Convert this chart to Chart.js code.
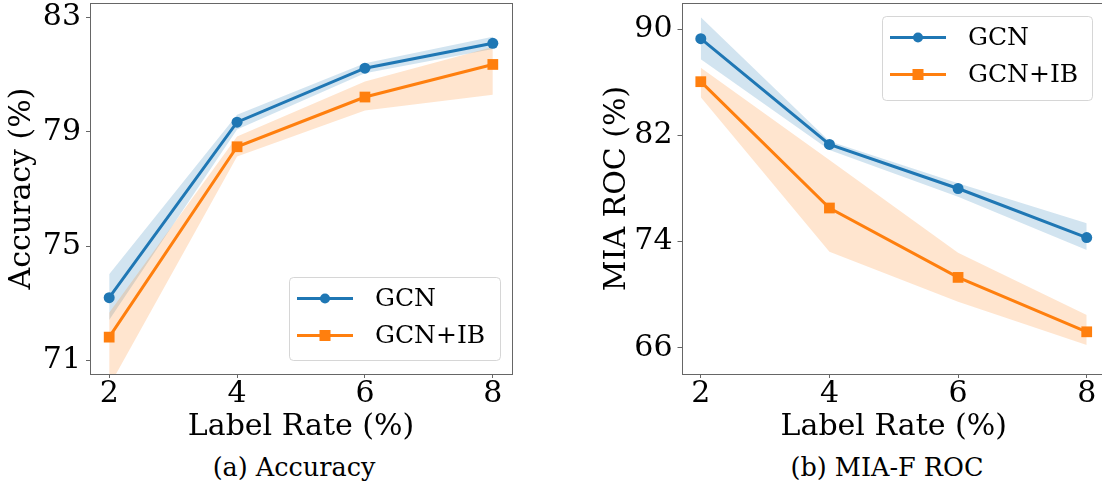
<!DOCTYPE html>
<html>
<head>
<meta charset="utf-8">
<script src="https://cdn.jsdelivr.net/npm/chart.js@4.4.0/dist/chart.umd.min.js"></script>
<style>
  body { margin: 0; background: #fff; width: 1102px; height: 485px; position: relative; overflow: hidden; }
  canvas { position: absolute; top: 0; }
  .caption { position: absolute; top: 452px; height: 30px; line-height: 30px; text-align: center;
             font-family: 'DejaVu Serif', serif; font-size: 25.5px; color: #000; }
</style>
</head>
<body>
<canvas id="accChart" width="530" height="450" style="left:0"></canvas>
<canvas id="miaChart" width="530" height="450" style="left:580px"></canvas>
<div class="caption" style="left:184px;width:220px">(a) Accuracy</div>
<div class="caption" style="left:757px;width:260px">(b) MIA-F ROC</div>

<script>
// ---- data ----
const labelRates = [2, 4, 6, 8];

// (a) Accuracy
const accTicks = [71, 75, 79, 83];
const accGcn = [73.2, 79.34, 81.23, 82.1];
const accGcnUpper = [74.02, 79.6, 81.4, 82.33];
const accGcnLower = [72.42, 79.08, 81.05, 81.9];
const accIb = [71.82, 78.48, 80.22, 81.36];
const accIbUpper = [72.67, 78.84, 80.76, 81.97];
const accIbLower = [70.1, 78.14, 79.75, 80.3];

// (b) MIA-F ROC
const miaTicks = [66, 74, 82, 90];
const miaGcn = [89.29, 81.32, 78.0, 74.3];
const miaGcnUpper = [90.9, 81.57, 78.39, 75.38];
const miaGcnLower = [87.74, 80.9, 77.38, 73.37];
const miaIb = [86.05, 76.53, 71.3, 67.2];
const miaIbUpper = [87.1, 80.15, 73.15, 68.46];
const miaIbLower = [84.87, 73.23, 69.46, 66.2];

const seriesNames = ['GCN', 'GCN+IB'];

const BLUE = '#1f77b4';
const ORANGE = '#ff7f0e';
const FONT = "'DejaVu Serif', serif";

const pts = ys => ys.map((y, i) => ({ x: labelRates[i], y: y }));

/** frame on all four sides, like matplotlib spines */
const framePlugin = {
  id: 'frame',
  afterDraw(chart) {
    const { ctx, chartArea: a } = chart;
    ctx.save();
    ctx.strokeStyle = '#666';
    ctx.lineWidth = 1;
    ctx.strokeRect(Math.round(a.left) + 0.5, Math.round(a.top) + 0.5,
                   Math.round(a.right - a.left), Math.round(a.bottom - a.top));
    ctx.restore();
  }
};

/** legend box drawn inside the plot area */
const boxLegendPlugin = {
  id: 'boxLegend',
  afterDraw(chart, args, opts) {
    const { ctx } = chart;
    const { x, y, w, h } = opts;
    ctx.save();
    ctx.beginPath();
    ctx.roundRect(x + 0.5, y + 0.5, w, h, 4);
    ctx.fillStyle = 'rgba(255,255,255,0.8)';
    ctx.fill();
    ctx.strokeStyle = 'rgba(204,204,204,0.8)';
    ctx.lineWidth = 1;
    ctx.stroke();

    const rows = chart.data.datasets.filter(d => d.inLegend);
    rows.forEach((d, i) => {
      const ry = y + 21.5 + i * 37;
      const lx = x + 8;
      ctx.strokeStyle = d.borderColor;
      ctx.lineWidth = 3;
      ctx.beginPath();
      ctx.moveTo(lx, ry);
      ctx.lineTo(lx + 56, ry);
      ctx.stroke();
      ctx.fillStyle = d.borderColor;
      if (d.pointStyle === 'rect') {
        ctx.fillRect(lx + 28 - 5.5, ry - 5.5, 11, 11);
      } else {
        ctx.beginPath();
        ctx.arc(lx + 28, ry, 5, 0, Math.PI * 2);
        ctx.fill();
      }
      ctx.fillStyle = '#000';
      ctx.font = '25px ' + FONT;
      ctx.textBaseline = 'middle';
      ctx.textAlign = 'left';
      ctx.fillText(d.label, x + 86, ry + 1);
    });
    ctx.restore();
  }
};

function lineSet(label, ys, color, style, radius) {
  return {
    label: label, data: pts(ys), inLegend: true, order: 0,
    borderColor: color, backgroundColor: color, borderWidth: 3,
    pointStyle: style, pointRadius: radius, pointHoverRadius: radius,
    pointBackgroundColor: color, pointBorderColor: color, pointBorderWidth: 0,
    fill: false, tension: 0, clip: false
  };
}

function bandSets(upper, lower, fillColor, order) {
  return [
    { data: pts(upper), borderColor: 'transparent', backgroundColor: fillColor,
      pointRadius: 0, fill: '+1', order: order, tension: 0 },
    { data: pts(lower), borderColor: 'transparent', backgroundColor: fillColor,
      pointRadius: 0, fill: false, order: order, tension: 0 }
  ];
}

function makeChart(id, o) {
  return new Chart(document.getElementById(id), {
    type: 'line',
    data: {
      datasets: [
        lineSet(seriesNames[0], o.gcn, BLUE, 'circle', 5.5),
        lineSet(seriesNames[1], o.ib, ORANGE, 'rect', 7.6),
        ...bandSets(o.gcnUpper, o.gcnLower, 'rgba(31,119,180,0.2)', 2),
        ...bandSets(o.ibUpper, o.ibLower, 'rgba(255,127,14,0.2)', 1)
      ]
    },
    options: {
      responsive: false,
      animation: false,
      layout: { autoPadding: false, padding: { top: 3, right: o.padRight, left: 0, bottom: 0 } },
      plugins: {
        legend: { display: false },
        tooltip: { enabled: false },
        boxLegend: o.legend
      },
      scales: {
        x: {
          type: 'linear', min: 1.7, max: 8.3,
          afterBuildTicks: s => { s.ticks = labelRates.map(v => ({ value: v })); },
          afterFit: s => { s.height = 76; s.paddingLeft = 0; s.paddingRight = 0; },
          grid: { drawOnChartArea: false, drawTicks: true, tickLength: 4, color: '#666' },
          border: { display: false },
          ticks: { color: '#000', padding: 1, font: { family: FONT, size: 30, lineHeight: 1 } },
          title: { display: true, text: 'Label Rate (%)', color: '#000',
                   font: { family: FONT, size: 30, lineHeight: 1.2 }, padding: { bottom: 5 } }
        },
        y: {
          min: o.yMin, max: o.yMax,
          afterBuildTicks: s => { s.ticks = o.yTicks.map(v => ({ value: v })); },
          afterFit: s => { s.width = o.yWidth; s.paddingTop = 0; s.paddingBottom = 0; },
          grid: { drawOnChartArea: false, drawTicks: true, tickLength: 4, color: '#666' },
          border: { display: false },
          ticks: { color: '#000', padding: 5, font: { family: FONT, size: 30, lineHeight: 1 } },
          title: { display: true, text: o.yTitle, color: '#000',
                   font: { family: FONT, size: 30, lineHeight: 1.2 }, padding: { top: o.titlePad } }
        }
      }
    },
    plugins: [framePlugin, boxLegendPlugin]
  });
}

makeChart('accChart', {
  gcn: accGcn, gcnUpper: accGcnUpper, gcnLower: accGcnLower,
  ib: accIb, ibUpper: accIbUpper, ibLower: accIbLower,
  yMin: 70.53, yMax: 83.51, yTicks: accTicks, yTitle: 'Accuracy (%)',
  yWidth: 90, padRight: 18, titlePad: 4,
  legend: { x: 289, y: 277, w: 211, h: 83 }
});

// right panel: plot area runs past the page edge, as in the reference
makeChart('miaChart', {
  gcn: miaGcn, gcnUpper: miaGcnUpper, gcnLower: miaGcnLower,
  ib: miaIb, ibUpper: miaIbUpper, ibLower: miaIbLower,
  yMin: 64.02, yMax: 91.98, yTicks: miaTicks, yTitle: 'MIA ROC (%)',
  yWidth: 101.5, padRight: 4, titlePad: 19,
  legend: { x: 302, y: 16, w: 210, h: 84 }
});
</script>
</body>
</html>
